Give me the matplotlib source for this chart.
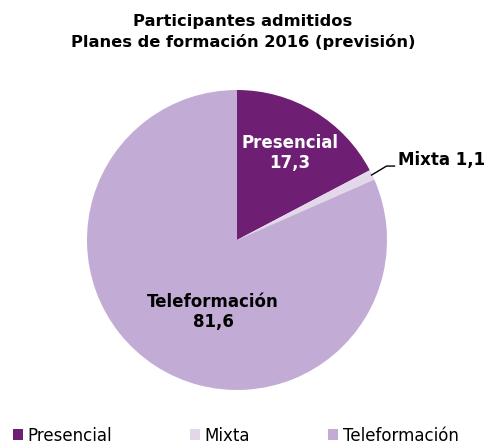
import matplotlib.pyplot as plt
from matplotlib.patches import Patch

categories = ["Presencial", "Mixta", "Teleformación"]
values = [17.3, 1.1, 81.6]
value_labels = ["17,3", "1,1", "81,6"]
colors = ["#6E1F74", "#E2D8EA", "#C2ABD5"]

fig = plt.figure(figsize=(4.86, 4.44), dpi=100)
ax = fig.add_axes([87 / 486, 54 / 444, 300 / 486, 300 / 444])
ax.pie(values, colors=colors, startangle=90, counterclock=False,
       radius=1, wedgeprops=dict(linewidth=0))
ax.set_xlim(-1, 1)
ax.set_ylim(-1, 1)
ax.set_aspect("auto")
ax.axis("off")

ax.text(0.353, 0.58, categories[0] + "\n" + value_labels[0], color="white",
        fontsize=12, fontweight="bold", ha="center", va="center", linespacing=1.1)
ax.text(-0.16, -0.48, categories[2] + "\n" + value_labels[2], color="black",
        fontsize=12, fontweight="bold", ha="center", va="center", linespacing=1.1)
ax.plot([0.897, 0.997, 1.05], [0.433, 0.493, 0.493], color="black", lw=1, clip_on=False)
ax.text(1.073, 0.533, categories[1] + " " + value_labels[1], color="black",
        fontsize=12, fontweight="bold", ha="left", va="center")

fig.text(0.5, 0.928, "Participantes admitidos\nPlanes de formación 2016 (previsión)",
         ha="center", va="center", fontsize=11.7, fontweight="bold", linespacing=1.45)

handles = [Patch(facecolor=c, edgecolor="none") for c in colors]
fig.legend(handles, categories, loc="lower center", ncol=3, frameon=False,
           bbox_to_anchor=(0.485, -0.035), fontsize=12, handlelength=0.6,
           handleheight=0.6, handletextpad=0.3, columnspacing=4.65)

fig.savefig("out.png", dpi=100)
